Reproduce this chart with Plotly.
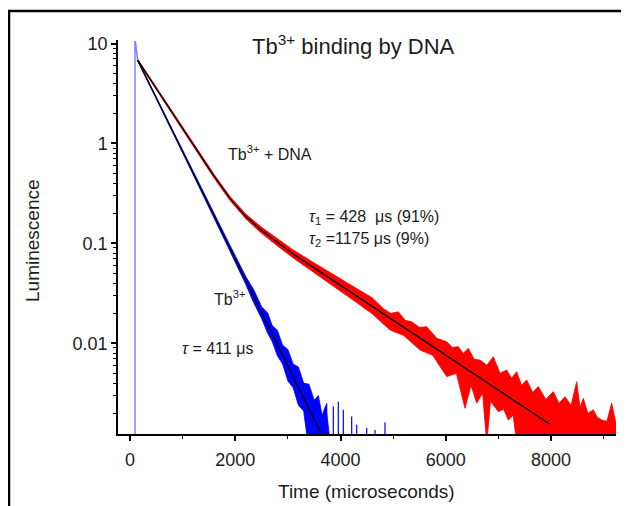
import plotly.graph_objects as go

# ---------------- data ----------------
# Tb3+ + DNA : noisy decay, drawn as the band between its upper / lower envelope
red_up_x = [146, 500, 900, 1300, 1600, 1900, 2200, 2500, 2800, 3100, 3500, 3930, 4300, 4600,
            4813, 4950, 5098, 5230, 5352, 5500, 5637, 5830, 6017, 6120, 6238, 6330, 6428,
            6540, 6650, 6780, 6903, 7030, 7157, 7250, 7347, 7440, 7537, 7650, 7758, 7900,
            8043, 8150, 8265, 8380, 8487, 8550, 8613, 8700, 8803, 8880, 8962, 9060, 9152, 9234]
red_up_y = [6.97, 3.63, 1.746, 0.841, 0.488, 0.295, 0.197, 0.145, 0.111, 0.0861, 0.0638, 0.0462, 0.0355, 0.0286,
            0.0223, 0.01995, 0.02065, 0.01698, 0.01644, 0.01445, 0.01466, 0.01122, 0.01038, 0.00912, 0.00925,
            0.00794, 0.00891, 0.00692, 0.00681, 0.00603, 0.00735, 0.00501, 0.00541, 0.00447, 0.00521, 0.0038,
            0.00431, 0.00324, 0.00369, 0.00275, 0.00329, 0.00251, 0.00293, 0.0024, 0.00414, 0.00229, 0.00282,
            0.0020, 0.00216, 0.00182, 0.00171, 0.00166, 0.00252, 0.00158]
red_lo_x = [146, 500, 900, 1300, 1600, 1900, 2200, 2500, 2800, 3100, 3500, 3930, 4300, 4600,
            4940, 5200, 5510, 5750, 6017, 6200, 6365, 6480, 6587, 6700, 6777, 6850, 7000,
            7100, 7188, 7280, 7347, 9234]
red_lo_y = [6.65, 3.47, 1.652, 0.785, 0.449, 0.269, 0.176, 0.126, 0.0944, 0.0716, 0.0507, 0.0351, 0.0257, 0.0198,
            0.0136, 0.0120, 0.00857, 0.00759, 0.00465, 0.00501, 0.00224, 0.0038, 0.00252, 0.00316, 0.0010,
            0.00263, 0.00207, 0.00219, 0.00171, 0.00191, 0.0010, 0.0010]

# Tb3+ : noisy decay band
blue_up_x = [146, 1000, 1500, 1900, 2200, 2350, 2500, 2620, 2700, 2800, 2900, 3000, 3100,
             3200, 3300, 3400, 3500, 3580, 3650, 3720, 3780, 3800]
blue_up_y = [6.9, 0.845, 0.251, 0.0957, 0.0467, 0.0345, 0.0233, 0.0200, 0.0151, 0.0135, 0.00955, 0.0087, 0.0062,
             0.0058, 0.0040, 0.0039, 0.0027, 0.0030, 0.0019, 0.0024, 0.0013, 0.0010]
blue_lo_x = [146, 1000, 1500, 1900, 2200, 2350, 2500, 2620, 2700, 2800, 2900, 3000, 3100,
             3200, 3300, 3380]
blue_lo_y = [6.7, 0.807, 0.229, 0.0834, 0.0388, 0.0255, 0.0177, 0.0125, 0.0105, 0.0075, 0.0062, 0.0042, 0.0036,
             0.0024, 0.0021, 0.0010]

# isolated late blue noise spikes
blue_spike_x = [3737, 3863, 3958, 4053, 4212, 4307, 4497, 4655, 4845]
blue_spike_y = [0.00252, 0.00233, 0.0026, 0.00216, 0.00185, 0.00153, 0.00142, 0.00136, 0.00162]

# excitation pulse
pulse_x = [95, 95, 105, 146]
pulse_y = [0.0005, 10.6, 10.2, 6.8]

# fits
fit_red_x = [146, 500, 900, 1300, 1600, 1900, 2200, 2500, 2800, 3100, 3500, 3930, 4500, 5200, 6000, 6800, 7980]
fit_red_y = [6.81, 3.55, 1.70, 0.813, 0.468, 0.282, 0.186, 0.135, 0.102, 0.0785, 0.0569, 0.0403, 0.0257,
             0.0146, 0.00767, 0.00403, 0.00155]
fit_blue_x = [146, 3620]
fit_blue_y = [6.8, 0.00128]

x_ticks = [0, 2000, 4000, 6000, 8000]
x_minor = [1000, 3000, 5000, 7000, 9000]
y_ticks = [0.01, 0.1, 1, 10]
y_ticktext = ["0.01", "0.1", "1", "10"]
y_minor = [m * d for d in [0.001, 0.01, 0.1, 1] for m in range(2, 10)]

FONT = "Liberation Sans, Arial, sans-serif"
TXT = "#1c1c1c"

fig = go.Figure()

fig.add_trace(go.Scatter(x=red_up_x + red_lo_x[::-1], y=red_up_y + red_lo_y[::-1],
                         fill="toself", fillcolor="#ff0000", mode="lines",
                         line=dict(color="#ff0000", width=0.8), hoverinfo="skip"))
fig.add_trace(go.Scatter(x=blue_up_x + blue_lo_x[::-1], y=blue_up_y + blue_lo_y[::-1],
                         fill="toself", fillcolor="#0000ff", mode="lines",
                         line=dict(color="#0000ff", width=0.8), hoverinfo="skip"))

sx, sy = [], []
for xv, yv in zip(blue_spike_x, blue_spike_y):
    sx += [xv, xv, None]
    sy += [0.0005, yv, None]
fig.add_trace(go.Scatter(x=sx, y=sy, mode="lines", line=dict(color="#0000ff", width=1.2),
                         hoverinfo="skip"))
fig.add_trace(go.Scatter(x=pulse_x, y=pulse_y, mode="lines",
                         line=dict(color="#8080ff", width=1.5), hoverinfo="skip"))

fig.add_trace(go.Scatter(x=fit_red_x, y=fit_red_y, mode="lines",
                         line=dict(color="#000000", width=1.3)))
fig.add_trace(go.Scatter(x=fit_blue_x, y=fit_blue_y, mode="lines",
                         line=dict(color="#000000", width=1.3)))

# page body has an 8px margin: figure is sized so the plot area lands at x 118-616, y 40-434
fig.update_layout(
    width=621, height=498,
    margin=dict(l=110, r=13, t=32, b=72),
    paper_bgcolor="white", plot_bgcolor="white",
    showlegend=False,
    font=dict(family=FONT, color=TXT, size=18),
)

fig.update_xaxes(range=[-228, 9234], showgrid=False, zeroline=False,
                 showline=True, linecolor="black", linewidth=1.5,
                 tickmode="array", tickvals=x_ticks, ticks="outside", ticklen=5, tickwidth=1.5,
                 tickcolor="black", tickfont=dict(size=18, family=FONT, color=TXT),
                 ticklabelstandoff=4,
                 minor=dict(tickmode="array", tickvals=x_minor, ticks="outside", ticklen=3,
                            tickwidth=1.2, tickcolor="black"))
fig.update_yaxes(type="log", range=[-2.907, 1.035], showgrid=False, zeroline=False,
                 showline=True, linecolor="black", linewidth=1.5,
                 tickmode="array", tickvals=y_ticks, ticktext=y_ticktext,
                 ticks="outside", ticklen=5, tickwidth=1.5, tickcolor="black",
                 tickfont=dict(size=18, family=FONT, color=TXT),
                 minor=dict(tickmode="array", tickvals=y_minor, ticks="outside", ticklen=3,
                            tickwidth=1, tickcolor="black"))

ann = [
    dict(text="Tb<sup>3+</sup> binding by DNA", x=0.472, y=0.987, size=22, xa="center"),
    dict(text="Tb<sup>3+</sup> + DNA", x=0.216, y=0.7125, size=16, xa="left"),
    dict(text="<i>τ</i><sub>1</sub> = 428  μs (91%)", x=0.379, y=0.55, size=16, xa="left"),
    dict(text="<i>τ</i><sub>2</sub> =1175 μs (9%)", x=0.379, y=0.4924, size=16, xa="left"),
    dict(text="Tb<sup>3+</sup>", x=0.188, y=0.3444, size=16, xa="left"),
    dict(text="<i>τ</i> = 411 μs", x=0.1245, y=0.2175, size=16, xa="left"),
    dict(text="Time (microseconds)", x=0.499, y=-0.1447, size=19, xa="center"),
]
for a in ann:
    fig.add_annotation(text=a["text"], x=a["x"], y=a["y"], xref="paper", yref="paper",
                       xanchor=a["xa"], yanchor="middle", showarrow=False,
                       font=dict(size=a["size"], family=FONT, color=TXT))
fig.add_annotation(text="Luminescence", x=-0.1707, y=0.4924, xref="paper", yref="paper",
                   textangle=-90, xanchor="center", yanchor="middle", showarrow=False,
                   font=dict(size=19, family=FONT, color=TXT))

# outer frame of the figure
fig.add_shape(type="rect", xref="paper", yref="paper",
              x0=-0.2189, x1=1.06, y0=-0.25, y1=1.0736,
              line=dict(color="black", width=2.5), fillcolor="rgba(0,0,0,0)", layer="above")

fig.write_html("out.html")
